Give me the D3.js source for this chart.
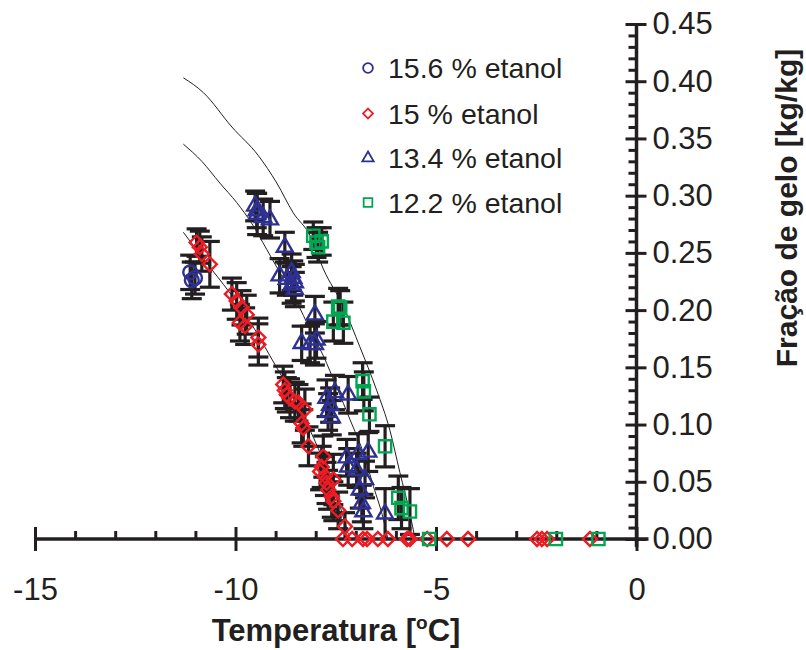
<!DOCTYPE html>
<html>
<head>
<meta charset="utf-8">
<script src="https://cdn.jsdelivr.net/npm/d3@7"></script>
<style>
  body { margin: 0; background: #fff; }
  svg text { font-family: "Liberation Sans", Arial, sans-serif; fill: #231f20; }
</style>
</head>
<body>
<div id="chart"></div>
<script>
// 15.6 % etanol (circles)
const circT = [-11.13, -11.01, -11.09];
const circF = [0.233, 0.228, 0.226];
const circE = [0.015, 0.014, 0.016];

// 15 % etanol (diamonds)
const diamT = [-10.97, -10.89, -10.84, -10.64,
  -10.09, -9.97, -9.85, -9.72, -9.89, -9.76, -9.43, -9.43,
  -8.81, -8.77, -8.72, -8.64, -8.52, -8.43, -8.27, -8.35, -8.31, -8.18,
  -7.81, -7.85, -7.89, -7.77, -7.56, -7.73, -7.69, -7.60, -7.56, -7.44, -7.27,
  -7.32, -7.09, -6.82, -6.72, -6.45, -6.20, -5.72, -5.65, -5.22, -4.73, -4.20, -2.48, -2.36, -2.23, -1.16];
const diamF = [0.259, 0.255, 0.249, 0.240,
  0.214, 0.208, 0.202, 0.196, 0.189, 0.186, 0.176, 0.170,
  0.135, 0.130, 0.126, 0.123, 0.120, 0.119, 0.113, 0.101, 0.097, 0.081,
  0.072, 0.063, 0.059, 0.055, 0.052, 0.049, 0.043, 0.037, 0.033, 0.025, 0.011,
  0, 0, 0, 0, 0, 0, 0, 0, 0, 0, 0, 0, 0, 0, 0];
const diamE = [0.012, 0.014, 0.015, 0.020,
  0.014, 0.016, 0.015, 0.017, 0.016, 0.016, 0.017, 0.018,
  0.016, 0.016, 0.015, 0.017, 0.017, 0.016, 0.018, 0.017, 0.016, 0.017,
  0.018, 0.018, 0.016, 0.017, 0.022, 0.018, 0.017, 0.018, 0.017, 0.016, 0.012,
  0, 0, 0, 0, 0, 0, 0, 0, 0, 0, 0, 0, 0, 0, 0];

// 13.4 % etanol (triangles)
const triT = [-9.51, -9.47, -9.46, -9.31, -9.14,
  -8.77,
  -8.90, -8.72, -8.60, -8.56, -8.52, -8.52, -8.60,
  -8.02,
  -8.35, -8.14, -7.98, -8.02,
  -7.52, -7.19, -7.73, -7.64, -7.69, -7.60,
  -7.23, -6.94, -6.69, -7.19, -6.98, -6.77, -6.90, -6.85, -6.81, -6.27];
const triF = [0.291, 0.287, 0.284, 0.281, 0.279,
  0.255,
  0.230, 0.227, 0.233, 0.228, 0.224, 0.218, 0.222,
  0.196,
  0.171, 0.170, 0.174, 0.170,
  0.128, 0.126, 0.123, 0.117, 0.111, 0.106,
  0.071, 0.074, 0.076, 0.063, 0.060, 0.052, 0.043, 0.031, 0.024, 0.022];
const triE = [0.013, 0.015, 0.018, 0.016, 0.016,
  0.013,
  0.015, 0.014, 0.016, 0.015, 0.016, 0.015, 0.016,
  0.016,
  0.015, 0.016, 0.016, 0.018,
  0.015, 0.016, 0.016, 0.015, 0.016, 0.015,
  0.016, 0.018, 0.017, 0.016, 0.015, 0.016, 0.016, 0.016, 0.015, 0.022];

// 12.2 % etanol (squares)
const sqT = [-8.06, -7.98, -7.85, -7.94,
  -7.44, -7.39, -7.56, -7.31,
  -6.83, -6.80, -6.66, -6.27,
  -5.94, -5.86, -5.65,
  -5.17, -2.01, -0.95];
const sqF = [0.265, 0.259, 0.260, 0.255,
  0.203, 0.202, 0.190, 0.189,
  0.138, 0.129, 0.109, 0.081,
  0.036, 0.027, 0.024,
  0, 0, 0];
const sqE = [0.012, 0.013, 0.012, 0.013,
  0.016, 0.015, 0.017, 0.018,
  0.016, 0.017, 0.015, 0.018,
  0.019, 0.018, 0.020,
  0, 0, 0];

// model curves
const curveAT = [-11.30, -10.80, -10.09, -9.43, -8.97, -8.56, -8.14, -7.81, -7.31, -6.90, -6.48, -6.15, -5.90, -5.65, -5.52];
const curveAF = [0.403, 0.390, 0.360, 0.335, 0.311, 0.285, 0.265, 0.236, 0.203, 0.168, 0.130, 0.095, 0.058, 0.022, 0];
const curveBT = [-11.30, -10.84, -10.39, -9.97, -9.60, -9.22, -8.85, -8.47, -8.14, -7.81, -7.48, -7.14, -6.81, -6.56, -6.31, -6.20];
const curveBF = [0.345, 0.330, 0.311, 0.294, 0.276, 0.253, 0.230, 0.207, 0.183, 0.160, 0.133, 0.104, 0.075, 0.046, 0.017, 0];
const curveCT = [-11.30, -10.76, -10.14, -9.64, -9.14, -8.64, -8.14, -7.77, -7.44, -7.22, -7.15];
const curveCF = [0.268, 0.243, 0.215, 0.190, 0.160, 0.129, 0.095, 0.065, 0.034, 0.008, 0];

const legendLabels = ["15.6 % etanol", "15 % etanol", "13.4 % etanol", "12.2 % etanol"];
const xMajor = [-15, -10, -5, 0];
const xMinor = [-14, -13, -12, -11, -9, -8, -7, -6, -4, -3, -2, -1];
const yMajor = [0, 0.05, 0.10, 0.15, 0.20, 0.25, 0.30, 0.35, 0.40, 0.45];

const ink = "#231f20";
const blue = "#2e3192", red = "#ed1c24", green = "#00a651";

const width = 806, height = 650;
const svg = d3.select("#chart").append("svg")
  .attr("width", width)
  .attr("height", height);

const x = d3.scaleLinear().domain([-15, 0]).range([35, 636.5]);
const y = d3.scaleLinear().domain([0, 0.45]).range([539, 24]);

const zip = (t, f, e) => t.map((d, i) => ({ t: d, f: f[i], e: e[i] }));

const series = [
  { pts: zip(circT, circF, circE), color: blue, shape: "circle" },
  { pts: zip(diamT, diamF, diamE), color: red, shape: "diamond" },
  { pts: zip(triT, triF, triE), color: blue, shape: "triangle" },
  { pts: zip(sqT, sqF, sqE), color: green, shape: "square" }
];

function symbolPath(shape, big) {
  var s = big ? 1 : 0.5;
  if (shape == "circle") return d3.symbol(d3.symbolCircle, 150 * s)();
  if (shape == "diamond") return d3.symbol(d3.symbolSquare, 98 * s)();
  if (shape == "triangle") return d3.symbol(d3.symbolTriangle, 112 * s)();
  return d3.symbol(d3.symbolSquare, 150 * s)();
}

// model curves
const line = d3.line().x(d => x(d[0])).y(d => y(d[1])).curve(d3.curveMonotoneX);
[[curveAT, curveAF], [curveBT, curveBF], [curveCT, curveCF]].forEach(function (c) {
  svg.append("path")
    .attr("d", line(c[0].map((t, i) => [t, c[1][i]])))
    .attr("fill", "none")
    .attr("stroke", ink)
    .attr("stroke-width", 1);
});

// error bars
const capW = 10;
const errG = svg.append("g").attr("stroke", ink).attr("stroke-width", 3.2);
series.forEach(function (s) {
  s.pts.filter(d => d.e > 0).forEach(function (d) {
    var cx = x(d.t), y0 = y(Math.max(0, d.f - d.e)), y1 = y(d.f + d.e);
    errG.append("line").attr("x1", cx).attr("x2", cx).attr("y1", y0).attr("y2", y1);
    errG.append("line").attr("x1", cx - capW).attr("x2", cx + capW).attr("y1", y1).attr("y2", y1);
    if (d.f - d.e > 0)
      errG.append("line").attr("x1", cx - capW).attr("x2", cx + capW).attr("y1", y0).attr("y2", y0);
  });
});

// x axis
const xAxisG = svg.append("g").attr("transform", `translate(0,${y(0)})`);
xAxisG.append("line")
  .attr("x1", x(-15)).attr("x2", x(0) + 12)
  .attr("stroke", ink).attr("stroke-width", 3.5);
xAxisG.append("g")
  .call(d3.axisTop(x).tickValues(xMinor).tickSize(8).tickFormat(""))
  .call(g => g.select(".domain").remove())
  .call(g => g.selectAll(".tick line").attr("stroke", ink).attr("stroke-width", 3));
xAxisG.append("g")
  .call(d3.axisBottom(x).tickValues(xMajor).tickSize(12).tickPadding(27).tickFormat(d => String(d)))
  .call(g => g.select(".domain").remove())
  .call(g => g.selectAll(".tick line").attr("y1", -12).attr("stroke", ink).attr("stroke-width", 3))
  .call(g => g.selectAll(".tick text").attr("font-size", 31).attr("fill", ink)
    .attr("font-family", "Liberation Sans, Arial, sans-serif"));

// y axis
const yMinor = d3.range(1, 45).filter(i => i % 5 != 0).map(i => i / 100);
const yAxisG = svg.append("g").attr("transform", `translate(${x(0)},0)`);
yAxisG.append("line")
  .attr("y1", y(0) + 8).attr("y2", y(0.45))
  .attr("stroke", ink).attr("stroke-width", 3.5);
yAxisG.append("g")
  .call(d3.axisLeft(y).tickValues(yMinor).tickSize(8).tickFormat(""))
  .call(g => g.select(".domain").remove())
  .call(g => g.selectAll(".tick line").attr("stroke", ink).attr("stroke-width", 3));
yAxisG.append("g")
  .call(d3.axisRight(y).tickValues(yMajor).tickSize(10).tickPadding(6).tickFormat(d3.format(".2f")))
  .call(g => g.select(".domain").remove())
  .call(g => g.selectAll(".tick line").attr("x1", -11).attr("stroke", ink).attr("stroke-width", 3))
  .call(g => g.selectAll(".tick text").attr("font-size", 31).attr("fill", ink)
    .attr("font-family", "Liberation Sans, Arial, sans-serif"));

// markers
series.forEach(function (s) {
  svg.append("g").selectAll("path")
    .data(s.pts)
    .enter()
    .append("path")
      .attr("d", symbolPath(s.shape, true))
      .attr("transform", d => `translate(${x(d.t)},${y(d.f)})` + (s.shape == "diamond" ? " rotate(45)" : ""))
      .attr("fill", "none")
      .attr("stroke", s.color)
      .attr("stroke-width", 2.4);
});

// legend
const legend = svg.append("g").attr("transform", "translate(368,0)");
const legendY = [68, 113.5, 158, 202.5];
series.forEach(function (s, i) {
  legend.append("path")
    .attr("d", symbolPath(s.shape, false))
    .attr("transform", `translate(0,${legendY[i]})` + (s.shape == "diamond" ? " rotate(45)" : ""))
    .attr("fill", "none")
    .attr("stroke", s.color)
    .attr("stroke-width", 1.8);
  legend.append("text")
    .attr("x", 20)
    .attr("y", legendY[i])
    .attr("dy", "0.36em")
    .attr("font-size", 28.5)
    .text(legendLabels[i]);
});

// axis titles
const xt = svg.append("text")
  .attr("x", 336)
  .attr("y", 641)
  .attr("text-anchor", "middle")
  .attr("font-size", 31)
  .attr("font-weight", "bold")
  .text("Temperatura [");
xt.append("tspan").attr("font-size", 19).attr("dy", -12).text("o");
xt.append("tspan").attr("dy", 12).text("C]");

svg.append("text")
  .attr("transform", "translate(797,208) rotate(-90)")
  .attr("text-anchor", "middle")
  .attr("font-size", 30)
  .attr("font-weight", "bold")
  .text("Fração de gelo [kg/kg]");
</script>
</body>
</html>
